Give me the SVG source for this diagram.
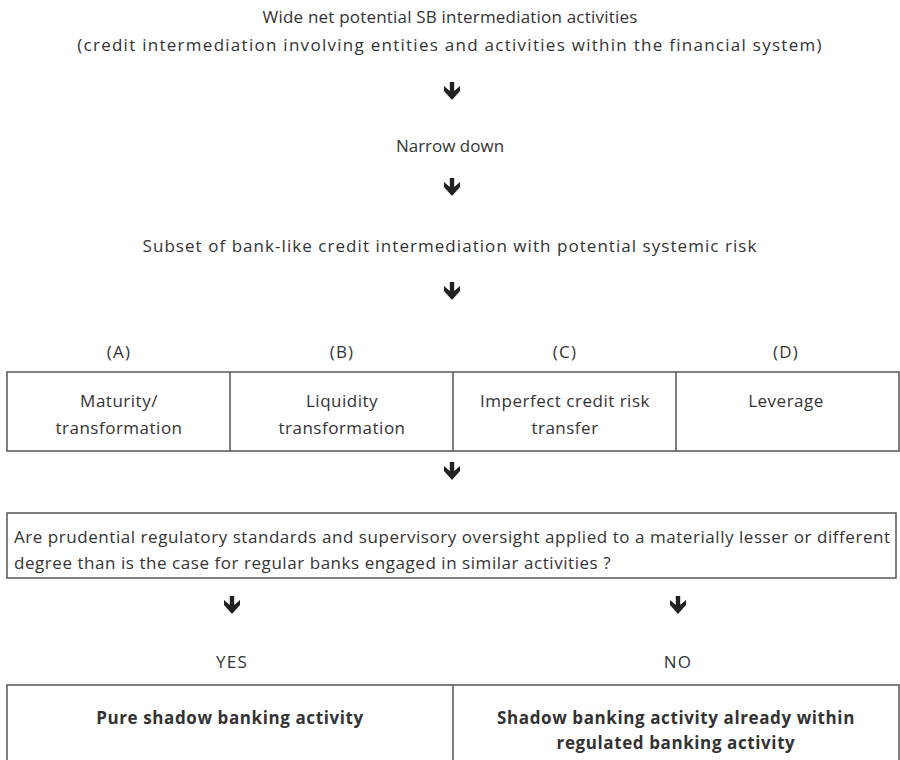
<svg xmlns="http://www.w3.org/2000/svg" width="900" height="760" viewBox="0 0 900 760">
<defs>
<style>
.t{font-family:"Open Sans",Lato,"Liberation Sans",sans-serif;font-size:17px;fill:#333;text-anchor:middle;letter-spacing:0.5px}
.w{letter-spacing:1.2px}
.l{text-anchor:start;letter-spacing:0.55px}
.b{font-weight:bold;letter-spacing:0.6px}
.box{fill:#fff;stroke:#555;stroke-width:1.5}
.div{stroke:#555;stroke-width:1.5}
.arr{fill:#222}
</style>
<path id="dn" class="arr" d="M-2.2,-10 L2.2,-10 L2.2,-1 L8,-6 L8,-1 L0,8 L-8,-1 L-8,-6 L-2.2,-1 Z"/>
</defs>
<g id="top">
<text class="t" x="450" y="23" style="letter-spacing:0.2px">Wide net potential SB intermediation activities</text>
<text class="t w" x="450" y="51" style="letter-spacing:1.27px">(credit intermediation involving entities and activities within the financial system)</text>
</g>
<g id="narrow"><text class="t" x="450" y="152" style="letter-spacing:0">Narrow down</text></g>
<g id="subset"><text class="t w" x="450" y="252" style="letter-spacing:1.05px">Subset of bank-like credit intermediation with potential systemic risk</text></g>
<g id="labels">
<text class="t w" x="119" y="358">(A)</text>
<text class="t w" x="342" y="358">(B)</text>
<text class="t w" x="565" y="358">(C)</text>
<text class="t w" x="786" y="358">(D)</text>
</g>
<g id="criteria">
<rect class="box" x="7" y="372" width="892" height="79"/>
<line class="div" x1="230" y1="372" x2="230" y2="451"/>
<line class="div" x1="453" y1="372" x2="453" y2="451"/>
<line class="div" x1="676" y1="372" x2="676" y2="451"/>
<text class="t" x="119" y="407">Maturity/</text>
<text class="t" x="119" y="434">transformation</text>
<text class="t" x="342" y="407">Liquidity</text>
<text class="t" x="342" y="434">transformation</text>
<text class="t" x="565" y="407">Imperfect credit risk</text>
<text class="t" x="565" y="434">transfer</text>
<text class="t" x="786" y="407">Leverage</text>
</g>
<g id="question">
<rect class="box" x="7" y="513" width="889" height="65"/>
<text class="t l" x="14" y="543">Are prudential regulatory standards and supervisory oversight applied to a materially lesser or different</text>
<text class="t l" x="14" y="569">degree than is the case for regular banks engaged in similar activities ?</text>
</g>
<g id="yes"><text class="t w" x="232" y="668">YES</text></g>
<g id="no"><text class="t w" x="678" y="668">NO</text></g>
<g id="outcomes">
<rect class="box" x="7" y="685" width="892" height="90"/>
<line class="div" x1="453" y1="685" x2="453" y2="760"/>
<text class="t b" x="230" y="724">Pure shadow banking activity</text>
<text class="t b" x="676" y="724">Shadow banking activity already within</text>
<text class="t b" x="676" y="749">regulated banking activity</text>
</g>
<g id="connectors">
<use href="#dn" x="452" y="92"/>
<use href="#dn" x="452" y="188"/>
<use href="#dn" x="452" y="292"/>
<use href="#dn" x="452" y="472"/>
<use href="#dn" x="232" y="606"/>
<use href="#dn" x="678" y="606"/>
</g>
</svg>
